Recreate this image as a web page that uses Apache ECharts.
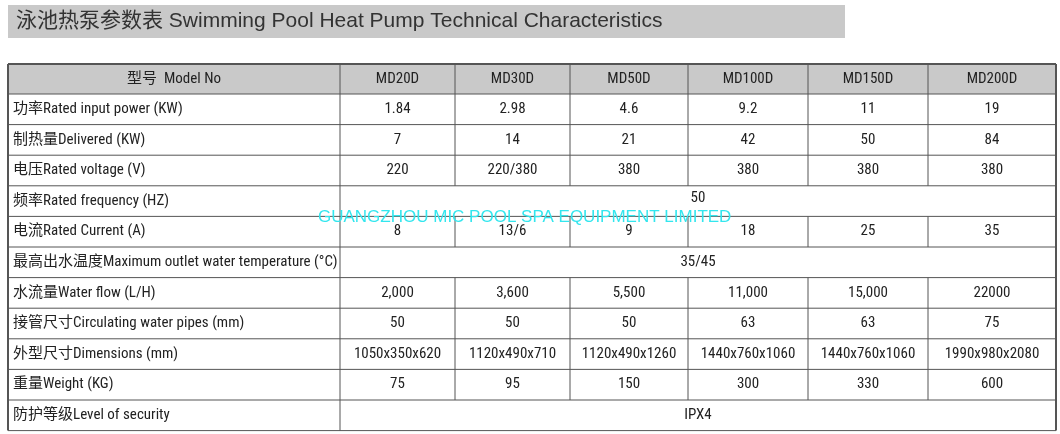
<!DOCTYPE html>
<html><head><meta charset="utf-8">
<script src="https://cdn.jsdelivr.net/npm/echarts@6/dist/echarts.min.js"></script>
<style>html,body{margin:0;background:#fff}#c{width:1060px;height:434px}</style>
</head><body><div id="c"></div>
<script>
const title = '泳池热泵参数表 Swimming Pool Heat Pump Technical Characteristics'
const models = ['MD20D', 'MD30D', 'MD50D', 'MD100D', 'MD150D', 'MD200D']
const rowLabels = [
  '功率Rated input power (KW)',
  '制热量Delivered (KW)',
  '电压Rated voltage (V)',
  '频率Rated frequency (HZ)',
  '电流Rated Current (A)',
  '最高出水温度Maximum outlet water temperature (°C)',
  '水流量Water flow (L/H)',
  '接管尺寸Circulating water pipes (mm)',
  '外型尺寸Dimensions (mm)',
  '重量Weight (KG)',
  '防护等级Level of security'
]
// a single string means one merged value across all models
const rowValues = [
  ['1.84', '2.98', '4.6', '9.2', '11', '19'],
  ['7', '14', '21', '42', '50', '84'],
  ['220', '220/380', '380', '380', '380', '380'],
  '50',
  ['8', '13/6', '9', '18', '25', '35'],
  '35/45',
  ['2,000', '3,600', '5,500', '11,000', '15,000', '22000'],
  ['50', '50', '50', '63', '63', '75'],
  ['1050x350x620', '1120x490x710', '1120x490x1260', '1440x760x1060', '1440x760x1060', '1990x980x2080'],
  ['75', '95', '150', '300', '330', '600'],
  'IPX4'
]
const watermark = 'GUANGZHOU MIC POOL SPA EQUIPMENT LIMITED'

const colX = [8, 340, 455, 570, 688, 808, 928, 1056]
const tableTop = 64, headH = 30, rowH = 30.6
const font = '"Liberation Sans Narrow", "Roboto Condensed", Arial, "Noto Sans CJK SC", sans-serif'

const g = []
g.push({ type: 'rect', shape: { x: 8, y: 5, width: 837, height: 33 }, style: { fill: '#c9c9c9' } })
g.push({ type: 'text', x: 16, y: 21, style: { text: title, font: '21px Arial, "Noto Sans CJK SC", sans-serif', fill: '#333', verticalAlign: 'middle' } })
const bottom = tableTop + headH + rowH * rowLabels.length
g.push({ type: 'rect', shape: { x: colX[0], y: tableTop, width: colX[7] - colX[0], height: headH }, style: { fill: '#c9c9c9' } })
const txt = (x, y, s, align) => g.push({ type: 'text', x, y, z: 2, style: { text: s, font: '15px ' + font, fill: '#222', align, verticalAlign: 'middle' } })
const line = (x1, y1, x2, y2, w) => g.push({ type: 'line', z: 3, shape: { x1, y1, x2, y2 }, style: { stroke: '#555', lineWidth: w || 1 } })

txt((colX[0] + colX[1]) / 2, tableTop + headH / 2, '型号  Model No', 'center')
models.forEach((m, i) => txt((colX[i + 1] + colX[i + 2]) / 2, tableTop + headH / 2, m, 'center'))
rowLabels.forEach((l, r) => {
  const cy = tableTop + headH + rowH * r + rowH / 2
  txt(13, cy, l, 'left')
  const v = rowValues[r]
  if (typeof v === 'string') txt((colX[1] + colX[7]) / 2, cy - (r === 3 ? 3 : 0), v, 'center')
  else v.forEach((s, i) => txt((colX[i + 1] + colX[i + 2]) / 2, cy, s, 'center'))
  line(colX[0], tableTop + headH + rowH * r, colX[7], tableTop + headH + rowH * r)
})
line(colX[0], tableTop, colX[7], tableTop, 2)
line(colX[0], bottom, colX[7], bottom)
line(colX[0], tableTop, colX[0], bottom, 2)
line(colX[7], tableTop, colX[7], bottom, 2)
line(colX[1], tableTop, colX[1], bottom)
for (let i = 2; i < 7; i++) {
  for (let r = -1; r < rowLabels.length; r++) {
    if (r >= 0 && typeof rowValues[r] === 'string') continue
    const y0 = r < 0 ? tableTop : tableTop + headH + rowH * r
    line(colX[i], y0, colX[i], y0 + (r < 0 ? headH : rowH))
  }
}
g.push({ type: 'text', x: 318, y: 217, z: 5, style: { text: watermark, font: '17px Arial, sans-serif', fill: '#33e6ee', verticalAlign: 'middle' } })

const chart = echarts.init(document.getElementById('c'))
chart.setOption({ animation: false, graphic: g })
</script></body></html>
